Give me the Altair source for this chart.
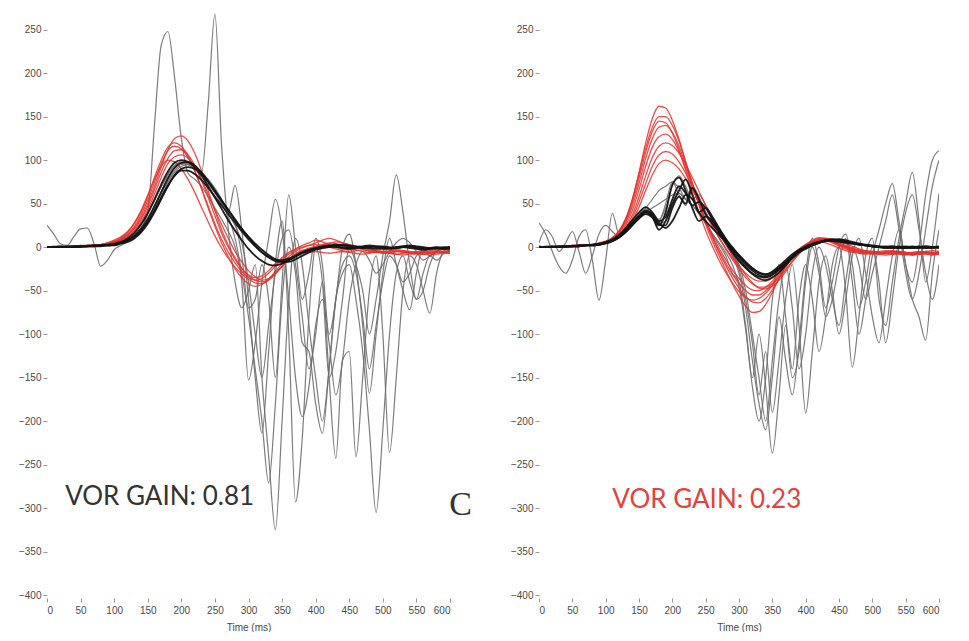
import altair as alt
import pandas as pd

STEP_MS = 10  # sample spacing of every trace below (t = 0, 10, ..., 600 ms)

# ---------------- left panel (VOR gain 0.81) ----------------
L_RED = [
    [0,0,1,0,1,1,2,2,3,4, 6,9,14,22,34,50,70,92,112,125, 128,122,108,88,65,42,20,2,-12,-24,
     -33,-38,-40,-37,-30,-22,-15,-10,-7,-6, -5,-6,-7,-6,-5,-6,-7,-8,-7,-6, -6,-7,-8,-7,-6,-5,-6,-7,-6,-5, -4],
    [0,1,0,0,1,2,1,2,3,5, 7,11,17,27,40,58,80,100,115,120, 116,105,88,68,47,27,9,-6,-18,-28,
     -35,-38,-36,-30,-22,-14,-8,-3,0,2, 3,2,0,-2,-4,-5,-4,-3,-5,-6, -7,-6,-5,-6,-7,-8,-7,-6,-5,-6, -5],
    [0,0,0,1,1,1,2,3,3,4, 6,9,14,21,32,47,66,86,102,111, 112,106,94,77,57,36,16,0,-14,-25,
     -32,-35,-33,-27,-19,-12,-6,-2,2,5, 8,6,3,0,-2,-3,-2,0,-2,-4, -5,-6,-5,-4,-5,-6,-5,-4,-5,-6, -6],
    [1,0,0,0,1,1,1,2,2,3, 5,8,12,19,29,43,61,80,96,104, 106,102,92,78,61,43,26,10,-5,-17,
     -27,-34,-38,-36,-30,-22,-14,-8,-4,-2, 0,2,4,6,5,3,1,-1,-3,-4, -5,-4,-3,-4,-6,-7,-6,-5,-4,-5, -4],
    [0,0,1,1,0,1,2,2,3,5, 8,12,18,28,42,60,78,93,100,98, 90,78,63,46,29,13,-1,-13,-23,-31,
     -37,-41,-42,-38,-31,-22,-14,-8,-4,-1, 1,3,5,4,2,-1,-3,-5,-6,-5, -6,-7,-8,-9,-8,-7,-8,-9,-8,-7, -7],
    [0,0,0,0,1,1,1,2,3,4, 6,10,15,24,37,54,75,96,111,116, 113,103,87,67,45,24,5,-11,-25,-35,
     -42,-45,-43,-37,-28,-19,-11,-5,-1,2, 5,8,10,8,5,2,0,-2,-4,-5, -6,-5,-4,-5,-6,-7,-8,-7,-6,-5, -4],
]
L_BLACK = [
    [0,0,0,0,0,1,1,1,2,2, 3,5,8,13,21,32,47,63,79,91, 97,98,94,86,76,65,54,43,32,21,
     11,2,-6,-12,-16,-17,-15,-11,-7,-4, -2,-1,0,1,0,-1,0,1,2,1, 0,-1,0,1,0,-1,-2,-1,0,-1, 0],
    [0,0,1,0,0,0,1,1,1,2, 2,4,6,10,17,27,40,55,70,83, 90,92,90,84,75,64,53,42,31,21,
     12,4,-3,-9,-14,-17,-17,-14,-10,-6, -3,-1,1,2,3,2,1,0,-1,-2, -2,-1,0,1,2,1,0,-1,-2,-2, -1],
    [0,0,0,0,1,1,1,2,2,3, 4,6,10,16,26,39,55,72,87,97, 100,98,92,82,70,57,44,31,19,8,
     -2,-10,-16,-20,-21,-19,-15,-10,-6,-3, -1,0,1,0,-1,-2,-1,0,1,0, -1,-2,-1,0,-1,-2,-3,-2,-1,-2, -2],
    [0,0,0,1,1,1,1,2,2,2, 3,5,8,12,19,29,42,57,71,82, 88,88,84,77,68,58,48,38,28,18,
     9,1,-6,-11,-14,-15,-13,-10,-6,-3, -1,1,2,3,2,1,0,-1,0,1, 1,0,-1,0,1,0,-1,-2,-1,0, 0],
]
L_GRAY = [
    [25,15,4,2,12,21,22,4,-22,-15, -3,2,6,12,22,40,140,232,248,195, 125,85,78,70,58,45,32,18,0,-40,
     -153,-110,-40,10,55,20,-60,-150,-195,-160, -90,-60,-110,-170,-130,-60,-20,-5,-15,-30,
     -20,-5,5,10,5,-5,-15,-10,-5,-2, 0],
    [0,0,1,0,1,1,2,2,3,3, 4,6,9,14,22,34,48,64,80,92, 97,95,90,85,165,268,115,20,-40,-70,
     -50,-20,-150,-240,-325,-200,-60,10,-20,-90, -150,-200,-140,-60,-20,-10,-30,-80,-140,-90,
     -40,-10,-20,-40,-30,-10,-5,-2,0,-2, 0],
    [0,1,0,0,1,1,1,2,2,3, 4,5,8,12,18,28,42,58,74,86, 93,95,92,86,78,68,55,40,71,20,
     -60,-150,-214,-120,-20,30,-100,-293,-220,-80, 0,-40,-150,-120,-60,0,-20,-50,-100,-60,
     -10,30,83,40,-20,-60,-50,-20,-5,-2, -2],
    [0,0,0,1,1,1,2,2,3,4, 5,7,11,17,26,38,53,69,83,93, 97,96,91,83,73,62,50,35,10,-30,
     -80,-140,-200,-271,-180,-60,0,-30,-110,-120, -180,-214,-140,-60,-30,-20,-60,-120,-210,-305,
     -210,-100,-30,-10,-40,-60,-30,-10,-15,-8, -3],
    [0,1,1,0,1,2,2,3,3,4, 6,8,12,18,27,39,54,70,84,94, 98,97,92,84,74,63,51,38,25,5,
     -40,-100,-150,-90,-30,10,20,-20,-80,-140, -100,-40,-150,-243,-130,-120,-241,-150,-50,-10,
     -100,-236,-150,-50,-10,-20,-50,-76,-30,-5, 0],
    [0,0,0,1,1,1,1,2,2,3, 4,6,9,14,21,31,45,61,76,88, 95,96,93,86,77,66,54,42,28,-10,
     -70,-60,-20,-60,-150,-40,60,0,-60,-30, 10,-20,-100,-60,0,15,-20,-90,-168,-100,
     -30,10,-20,-50,-72,-30,0,-10,-5,-2, 0],
]

# ---------------- right panel (VOR gain 0.23) ----------------
R_RED = [
    [0,0,1,0,1,1,2,2,3,4, 6,10,18,32,55,86,120,148,162,160, 146,124,98,72,48,26,7,-10,-26,-42,
     -56,-68,-75,-74,-66,-52,-36,-22,-10,-2, 3,6,7,5,2,-1,-4,-6,-7,-8, -7,-8,-9,-8,-7,-8,-9,-8,-7,-8, -8],
    [0,1,0,1,1,2,2,3,3,5, 7,11,19,33,55,84,114,138,150,150, 140,122,98,74,51,30,11,-6,-21,-35,
     -47,-57,-63,-64,-59,-49,-36,-23,-12,-4, 2,6,9,8,5,1,-2,-5,-6,-7, -8,-7,-6,-7,-8,-9,-8,-7,-8,-9, -8],
    [0,0,0,1,1,1,2,2,3,4, 6,9,16,28,47,73,102,125,138,140, 132,116,95,72,50,30,12,-4,-18,-31,
     -42,-50,-55,-55,-50,-42,-31,-20,-10,-3, 3,8,11,10,7,3,0,-3,-5,-6, -7,-6,-7,-8,-7,-6,-7,-8,-7,-6, -7],
    [1,0,0,0,1,2,2,3,3,4, 5,8,14,25,42,66,93,115,127,130, 124,110,91,70,50,31,14,-1,-14,-26,
     -36,-44,-49,-50,-46,-39,-29,-19,-10,-3, 2,6,9,10,8,5,2,-1,-3,-5, -6,-7,-6,-5,-6,-7,-8,-7,-6,-7, -6],
    [0,0,1,1,1,1,2,2,3,4, 5,8,13,22,37,58,82,103,116,120, 117,108,95,80,64,48,33,18,4,-9,
     -21,-32,-41,-47,-48,-45,-38,-28,-17,-8, -1,4,8,10,9,7,4,1,-2,-4, -5,-6,-7,-6,-5,-6,-7,-6,-5,-6, -6],
    [0,0,0,0,1,1,1,2,2,3, 5,7,12,20,33,52,73,93,106,110, 107,98,85,70,55,40,25,11,-2,-14,
     -25,-35,-42,-46,-46,-42,-35,-26,-16,-7, 0,5,8,9,7,4,1,-2,-4,-5, -6,-5,-4,-5,-6,-7,-6,-5,-6,-7, -6],
    [0,1,1,0,1,2,2,3,3,4, 5,7,11,18,30,46,65,83,96,100, 97,90,79,66,52,38,24,11,-1,-12,
     -22,-30,-36,-39,-39,-35,-29,-21,-13,-6, 0,4,7,8,6,3,0,-2,-4,-5, -5,-6,-5,-4,-5,-6,-7,-6,-5,-4, -5],
    [0,0,0,1,1,1,2,2,3,4, 6,10,17,30,51,79,109,133,145,143, 131,112,88,63,40,19,1,-15,-29,-41,
     -51,-58,-61,-59,-53,-44,-33,-22,-12,-4, 2,7,10,9,6,2,-1,-4,-6,-7, -7,-8,-7,-6,-7,-8,-9,-8,-7,-8, -7],
]
R_BLACK = [
    [0,0,0,1,0,1,1,2,2,3, 5,8,13,20,28,36,42,38,28,22, 30,45,60,55,40,30,22,14,6,-2,
     -10,-18,-25,-30,-32,-28,-22,-15,-8,-3, 1,4,6,7,8,7,6,5,4,3, 2,1,0,1,0,-1,0,1,0,-1, 0],
    [0,0,1,0,1,1,2,2,3,4, 6,9,14,22,31,40,46,40,30,35, 55,70,62,48,52,45,32,20,9,0,
     -9,-17,-24,-29,-31,-29,-24,-17,-10,-4, 0,3,5,8,9,8,6,4,3,2, 1,0,-1,0,1,0,-1,0,1,0, 0],
    [0,0,0,0,1,1,1,2,2,3, 4,7,11,17,25,33,38,34,25,40, 72,80,65,45,30,35,30,18,7,-4,
     -14,-23,-31,-36,-38,-35,-29,-21,-13,-6, -1,3,6,8,9,9,7,5,3,2, 1,0,1,0,-1,0,1,0,-1,0, 1],
    [1,0,0,0,1,1,2,2,3,3, 5,8,12,19,27,35,40,35,20,30, 50,65,78,60,40,45,35,22,10,-1,
     -11,-20,-27,-32,-34,-31,-25,-18,-11,-5, -1,2,5,7,8,9,8,6,4,2, 1,1,0,-1,0,1,0,-1,0,0, -1],
    [0,0,0,1,1,1,1,2,2,3, 5,7,11,18,26,34,40,36,26,25, 45,58,50,68,55,38,27,17,5,-6,
     -16,-24,-30,-34,-35,-32,-26,-19,-12,-6, -2,2,5,7,7,6,5,4,3,2, 1,0,0,1,0,-1,0,0,1,0, 0],
]
R_GRAY = [
    [28,15,-5,-22,-30,-15,12,20,-15,-61, -15,39,15,20,28,36,45,55,65,70, 75,68,55,48,40,28,16,5,-6,-20,
     -45,-95,-160,-200,-150,-60,-20,-80,-150,-120, -40,0,-30,-80,-60,-20,10,-40,-100,-60,
     -10,20,50,73,30,-20,-40,0,60,100, 111],
    [5,20,12,-5,5,18,-5,-30,-10,15, 25,18,12,18,25,33,40,45,50,55, 60,62,55,48,38,27,15,3,-10,-30,
     -40,-90,-150,-100,-160,-237,-170,-90,-140,-60, -20,-60,-120,-80,-20,0,-50,-138,-80,-10,
     10,-60,-90,-40,10,50,86,30,-40,0, 62],
    [0,0,1,0,1,1,2,2,3,4, 6,9,14,21,30,38,44,40,32,45, 70,82,70,55,60,48,35,22,10,-5,
     -25,-60,-110,-170,-120,-190,-130,-60,-20,-90, -191,-120,-40,-10,-50,-100,-60,-10,10,-30,
     -80,-110,-60,-10,20,-20,-60,-80,-107,-30, 20],
    [0,1,0,1,1,2,2,3,3,4, 6,8,12,19,28,37,43,38,30,50, 75,60,48,65,50,36,26,15,3,-10,
     -30,-70,-130,-180,-210,-150,-80,-130,-170,-110, -30,10,-20,-70,-40,0,15,-20,-70,-40,
     0,-40,-110,-60,0,40,60,20,-30,-60, -20],
    [0,0,0,1,1,1,2,2,3,3, 5,8,12,19,27,35,41,37,27,30, 48,62,55,70,58,40,28,18,6,-8,
     -20,-50,-100,-150,-200,-130,-60,-20,-70,-140, -100,-30,0,-20,-60,-90,-40,0,-20,-60,
     -30,0,30,60,20,-30,-60,-30,20,70, 100],
]

X_TICKS = list(range(0, 601, 50))
Y_TICKS = list(range(-400, 251, 50))
X_DOMAIN = [0, 600]
Y_DOMAIN = [-400, 275]

FONT = "Liberation Sans"
RED = "#e4312b"
BLACK = "#141414"
GRAY = "#6e6e6e"


def to_frame(traces, name):
    rows = []
    for k, vals in enumerate(traces):
        for i, v in enumerate(vals):
            rows.append({"trace": f"{name}-{k}", "t": i * STEP_MS, "v": v})
    return pd.DataFrame(rows)


def panel(red, black, gray, width, notes):
    x = alt.X("t:Q", scale=alt.Scale(domain=X_DOMAIN, nice=False, zero=False),
              axis=alt.Axis(values=X_TICKS, title="Time (ms)", format="d"))
    y = alt.Y("v:Q", scale=alt.Scale(domain=Y_DOMAIN, nice=False),
              axis=alt.Axis(values=Y_TICKS, title=None, format="d"))

    def lines(df, color, sw, op):
        return alt.Chart(df).mark_line(
            interpolate="monotone", color=color, strokeWidth=sw, opacity=op, clip=True
        ).encode(x=x, y=y, detail="trace:N")

    layers = [
        lines(to_frame(gray, "g"), GRAY, 1.2, 0.9),
        lines(to_frame(red, "r"), RED, 1.3, 0.85),
        lines(to_frame(black, "b"), BLACK, 1.8, 0.95),
    ]
    for (txt, t, v, font, size, color) in notes:
        ndf = pd.DataFrame({"t": [t], "v": [v], "label": [txt]})
        layers.append(
            alt.Chart(ndf).mark_text(align="left", baseline="middle", font=font,
                                     fontSize=size, color=color)
            .encode(x=x, y=y, text="label:N")
        )
    return alt.layer(*layers).properties(width=width, height=587)


left = panel(L_RED, L_BLACK, L_GRAY, 403, [
    ("VOR GAIN: 0.81", 27, -287, "Lato", 26, "#333333"),
    ("C", 599, -297, "Liberation Serif", 34, "#333333"),
])
right = panel(R_RED, R_BLACK, R_GRAY, 400, [
    ("VOR GAIN: 0.23", 110, -291, "Lato", 26, "#e5413d"),
])

chart = (
    alt.hconcat(left, right, spacing=89, bounds="flush")
    .properties(padding={"left": 10, "top": 0, "right": 0, "bottom": 0}, background="white")
    .configure_view(stroke=None)
    .configure_axis(labelFont=FONT, labelFontSize=10, labelColor="#4a4a4a", tickColor="#999999",
                    tickSize=4, domain=False, grid=False, labelPadding=2, titleFont=FONT,
                    titleFontSize=10, titleFontWeight="normal", titleColor="#4a4a4a")
    .configure_axisX(offset=3, titlePadding=7, labelPadding=3)
)

chart.save("out.html", embed_options={"renderer": "svg", "actions": False})
